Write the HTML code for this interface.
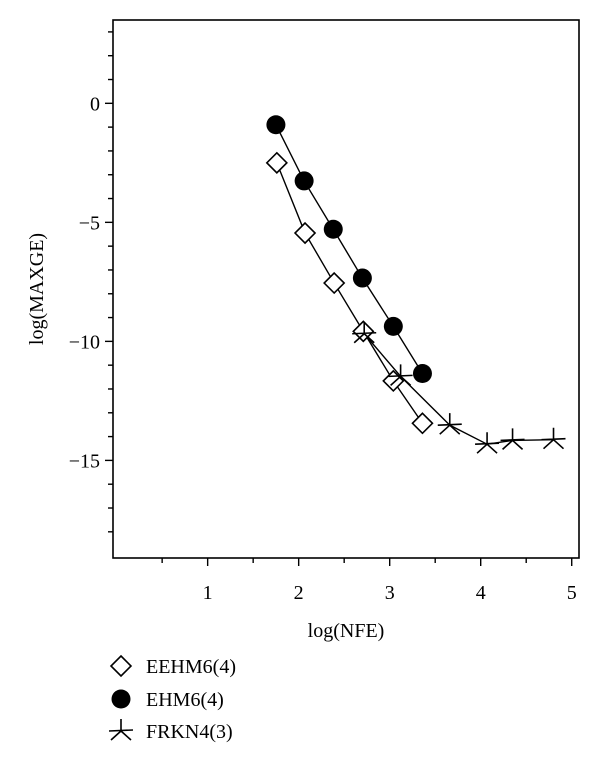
<!DOCTYPE html>
<html><head><meta charset="utf-8"><style>
html,body{margin:0;padding:0;background:#fff;}
svg{display:block;font-family:"Liberation Serif",serif;}
</style></head><body>
<svg id="chart" width="600" height="762" viewBox="0 0 600 762" xmlns="http://www.w3.org/2000/svg"></svg>
<script>
const xTicks=[1,2,3,4,5];
const yTicks=[0,-5,-10,-15];
const seriesNames=["EEHM6(4)","EHM6(4)","FRKN4(3)"];
const eehmX=[1.76,2.07,2.39,2.71,3.04,3.36];
const eehmY=[-2.5,-5.45,-7.55,-9.58,-11.66,-13.44];
const ehmX=[1.75,2.06,2.38,2.70,3.04,3.36];
const ehmY=[-0.9,-3.26,-5.29,-7.34,-9.37,-11.35];
const frknX=[2.72,3.12,3.66,4.07,4.35,4.80];
const frknY=[-9.68,-11.47,-13.52,-14.32,-14.16,-14.13];

const L=113,R=579,T=20,B=558;
const xmin=-0.04,xmax=5.08,ymin=-19.1,ymax=3.5;
function sx(v){return L+(v-xmin)/(xmax-xmin)*(R-L);}
function sy(v){return B-(v-ymin)/(ymax-ymin)*(B-T);}
const svg=document.getElementById('chart');
const NS='http://www.w3.org/2000/svg';
function mk(tag,attrs,parent){const e=document.createElementNS(NS,tag);for(const k in attrs)e.setAttribute(k,attrs[k]);(parent||svg).appendChild(e);return e;}

const frame=mk('rect',{x:L,y:T,width:R-L,height:B-T,fill:'none',stroke:'#000','stroke-width':1.6});



for(let v=0.5;v<=5.01;v+=0.5){
  const major=Math.abs(v-Math.round(v))<1e-6;
  const t=mk('line',{x1:sx(v),x2:sx(v),y1:B,y2:B+(major?8:5),stroke:'#000','stroke-width':1.4});
  
  
}
xTicks.forEach(v=>{
  const t=mk('text',{x:sx(v),y:599,'text-anchor':'middle','font-size':20});
  t.textContent=v;
  
  
});
for(let v=3;v>=-18;v--){
  const major=v%5===0;
  const t=mk('line',{x1:L,x2:L-(major?8:5),y1:sy(v),y2:sy(v),stroke:'#000','stroke-width':1.4});
  
  
}
yTicks.forEach(v=>{
  const t=mk('text',{x:L-13,y:sy(v)+7,'text-anchor':'end','font-size':20});
  t.textContent=v===0?'0':'\u2212'+Math.abs(v);
  
  
});
const xt=mk('text',{x:346,y:637,'text-anchor':'middle','font-size':20});
xt.textContent='log(NFE)';


const yt=mk('text',{x:0,y:0,'text-anchor':'middle','font-size':20,transform:'translate(43,289) rotate(-90)'});
yt.textContent='log(MAXGE)';



function line(xs,ys,name){
  const p=mk('polyline',{points:xs.map((x,i)=>sx(x)+','+sy(ys[i])).join(' '),fill:'none',stroke:'#000','stroke-width':1.4});
  
  
}
function diamond(cx,cy,g){mk('polygon',{points:`${cx},${cy-10} ${cx+10},${cy} ${cx},${cy+10} ${cx-10},${cy}`,fill:'#fff',stroke:'#000','stroke-width':1.6},g);}
function dot(cx,cy,g){mk('circle',{cx:cx,cy:cy,r:9.5,fill:'#000'},g);}
function star(cx,cy,g){
  const d=`M${cx},${cy-12}L${cx},${cy} M${cx-12},${cy}L${cx+12},${cy-1} M${cx-10},${cy+9}L${cx},${cy} L${cx+10},${cy+9}`;
  mk('path',{d:d,fill:'none',stroke:'#000','stroke-width':1.6},g);
}
line(eehmX,eehmY,'eehm-line');
line(ehmX,ehmY,'ehm-line');
line(frknX,frknY,'frkn-line');
eehmX.forEach((x,i)=>{const g=mk('g',{});diamond(sx(x),sy(eehmY[i]),g);});
ehmX.forEach((x,i)=>{const g=mk('g',{});dot(sx(x),sy(ehmY[i]),g);});
frknX.forEach((x,i)=>{const g=mk('g',{});star(sx(x),sy(frknY[i]),g);});

const legY=[666,699,731];
const drawers=[diamond,dot,star];
seriesNames.forEach((n,i)=>{
  const g=mk('g',{});
  
  
  drawers[i](121,legY[i],g);
  const t=mk('text',{x:146,y:legY[i]+7,'font-size':20},g);
  t.textContent=n;
});
</script>
</body></html>
